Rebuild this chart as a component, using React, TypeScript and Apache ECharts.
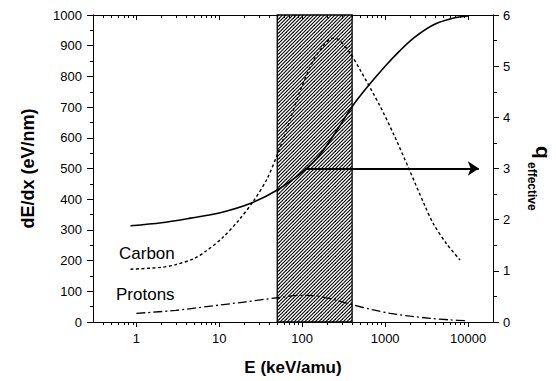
import React, { useEffect, useRef } from "react";
import * as echarts from "echarts";

// ---- data ----
const xMin = 0.3;
const xMax = 20000;
const majorTickValues = [1, 10, 100, 1000, 10000];
const minorTickValues = [
  0.4, 0.5, 0.6, 0.7, 0.8, 0.9,
  2, 3, 4, 5, 6, 7, 8, 9,
  20, 30, 40, 50, 60, 70, 80, 90,
  200, 300, 400, 500, 600, 700, 800, 900,
  2000, 3000, 4000, 5000, 6000, 7000, 8000, 9000,
];
const hatchRange = [50, 400];

// q_effective (right axis)
const qEnergy = [0.85, 2, 4.5, 10, 24, 50, 100, 160, 263, 400, 630, 1000, 1500, 2200, 3850, 6700, 10000];
const qValues = [1.88, 1.94, 2.03, 2.13, 2.32, 2.58, 2.93, 3.25, 3.75, 4.21, 4.62, 5.0, 5.3, 5.55, 5.81, 5.94, 5.98];

// Carbon dE/dx (left axis)
const carbonEnergy = [0.85, 2, 3, 5, 7, 11, 17, 26, 38, 50, 60, 72, 95, 137, 180, 210, 240, 280, 380, 500, 877, 1300, 1923, 3000, 3855, 5500, 8000];
const carbonValues = [172, 178, 187, 207, 232, 275, 330, 395, 468, 545, 600, 662, 755, 853, 900, 918, 925, 918, 875, 821, 701, 605, 501, 380, 318, 255, 202];

// Protons dE/dx (left axis)
const protonEnergy = [1, 3, 7, 20, 50, 100, 150, 250, 417, 700, 1160, 2000, 3500, 6000, 10000];
const protonValues = [28, 38, 50, 65, 79, 87, 85, 72, 55, 40, 28, 19, 12, 7, 4];

// arrow (q_effective = 3)
const arrowStart = [109, 3];
const arrowEnd = [13500, 3];

const leftTicks = { min: 0, max: 1000, interval: 100 };
const rightTicks = { min: 0, max: 6, interval: 1 };

const FONT = "'Liberation Sans', Arial, Helvetica, sans-serif";
const lg = (v: number) => Math.log10(v);

function makeHatch() {
  const size = 7;
  const c = document.createElement("canvas");
  c.width = size;
  c.height = size;
  const ctx = c.getContext("2d")!;
  ctx.fillStyle = "#fff";
  ctx.fillRect(0, 0, size, size);
  ctx.strokeStyle = "#000";
  ctx.lineWidth = 1.1;
  for (let k = -2; k <= 6; k++) {
    const cc = k * 3.5;
    ctx.beginPath();
    ctx.moveTo(cc - 10, size + 10);
    ctx.lineTo(cc + size + 10, -10);
    ctx.stroke();
  }
  return c;
}

export default function App() {
  const ref = useRef<HTMLDivElement>(null);
  useEffect(() => {
    if (!ref.current) return;
    const chart = echarts.init(ref.current, null, { renderer: "svg" });
    const hatch = makeHatch();
    const xBase = {
      type: "value" as const,
      min: lg(xMin),
      max: lg(xMax),
      splitLine: { show: false },
    };
    const tickLbl = { fontSize: 13, color: "#000", fontFamily: FONT };
    const tickData = [
      ...majorTickValues.map((v) => [lg(v), 1]),
      ...minorTickValues.map((v) => [lg(v), 0]),
    ];
    const option: any = {
      animation: false,
      backgroundColor: "#fff",
      grid: { left: 93, top: 15, width: 400, height: 307, containLabel: false },
      xAxis: [
        {
          ...xBase,
          position: "bottom",
          axisLine: { show: true, onZero: false, lineStyle: { color: "#000", width: 1 } },
          axisTick: { show: false },
          axisLabel: {
            ...tickLbl,
            margin: 10,
            customValues: majorTickValues.map(lg),
            formatter: (v: number) => String(Math.round(Math.pow(10, v))),
          },
          name: "E (keV/amu)",
          nameLocation: "middle",
          nameGap: 37,
          nameTextStyle: { fontSize: 17, fontWeight: "bold", color: "#000", fontFamily: FONT },
        },
        {
          ...xBase,
          position: "top",
          axisLine: { show: true, onZero: false, lineStyle: { color: "#000", width: 1 } },
          axisTick: { show: false },
          axisLabel: { show: false },
        },
      ],
      yAxis: [
        {
          type: "value",
          position: "left",
          ...leftTicks,
          splitLine: { show: false },
          axisLine: { show: true, onZero: false, lineStyle: { color: "#000", width: 1 } },
          axisTick: { show: true, inside: false, length: 6, lineStyle: { color: "#000" } },
          minorTick: { show: true, splitNumber: 2, length: 3, lineStyle: { color: "#000" } },
          axisLabel: { ...tickLbl, margin: 11, formatter: (v: number) => String(v) },
          name: "dE/dx (eV/nm)",
          nameLocation: "middle",
          nameRotate: 90,
          nameGap: 56,
          nameTextStyle: { fontSize: 18, fontWeight: "bold", color: "#000", fontFamily: FONT },
        },
        {
          type: "value",
          position: "right",
          ...rightTicks,
          splitLine: { show: false },
          axisLine: { show: true, onZero: false, lineStyle: { color: "#000", width: 1 } },
          axisTick: { show: true, inside: false, length: 6, lineStyle: { color: "#000" } },
          minorTick: { show: true, splitNumber: 2, length: 4, lineStyle: { color: "#000" } },
          axisLabel: { ...tickLbl, margin: 10, formatter: (v: number) => String(v) },
        },
      ],
      series: [
        {
          type: "line",
          xAxisIndex: 0,
          yAxisIndex: 0,
          z: 1,
          data: [[lg(hatchRange[0]), 0]],
          symbol: "none",
          lineStyle: { opacity: 0 },
          silent: true,
          markArea: {
            silent: true,
            itemStyle: {
              color: { image: hatch, repeat: "repeat", imageWidth: 7, imageHeight: 7 },
              borderColor: "#000",
              borderWidth: 1.3,
            },
            label: { show: false },
            data: [[{ xAxis: lg(hatchRange[0]) }, { xAxis: lg(hatchRange[1]) }]],
          },
        },
        {
          type: "custom",
          name: "xticks",
          xAxisIndex: 0,
          yAxisIndex: 0,
          z: 5,
          silent: true,
          clip: false,
          data: tickData,
          renderItem: (_params: any, api: any) => {
            const x = api.value(0);
            const major = api.value(1) === 1;
            const pb = api.coord([x, leftTicks.min]);
            const pt = api.coord([x, leftTicks.max]);
            const len = major ? 5 : 3;
            const px = Math.round(pb[0]) + 0.5;
            return {
              type: "group",
              children: [
                { type: "line", shape: { x1: px, y1: pb[1], x2: px, y2: pb[1] + len }, style: { stroke: "#000", lineWidth: 1 } },
                { type: "line", shape: { x1: px, y1: pt[1], x2: px, y2: pt[1] + len }, style: { stroke: "#000", lineWidth: 1 } },
              ],
            };
          },
        },
        {
          type: "line",
          name: "q",
          xAxisIndex: 0,
          yAxisIndex: 1,
          z: 3,
          smooth: 0.3,
          symbol: "none",
          data: qEnergy.map((e, i) => [lg(e), qValues[i]]),
          lineStyle: { color: "#000", width: 1.6, type: "solid" },
          markLine: {
            silent: true,
            symbol: ["none", "arrow"],
            symbolSize: [11, 11],
            label: { show: false },
            lineStyle: { color: "#000", width: 2.2, type: "solid" },
            data: [[{ coord: [lg(arrowStart[0]), arrowStart[1]] }, { coord: [lg(arrowEnd[0]), arrowEnd[1]] }]],
          },
        },
        {
          type: "line",
          name: "Carbon",
          xAxisIndex: 0,
          yAxisIndex: 0,
          z: 3,
          smooth: 0.3,
          symbol: "none",
          data: carbonEnergy.map((e, i) => [lg(e), carbonValues[i]]),
          lineStyle: { color: "#000", width: 1.4, type: [3, 2.5] },
        },
        {
          type: "line",
          name: "Protons",
          xAxisIndex: 0,
          yAxisIndex: 0,
          z: 3,
          smooth: 0.3,
          symbol: "none",
          data: protonEnergy.map((e, i) => [lg(e), protonValues[i]]),
          lineStyle: { color: "#000", width: 1.3, type: [9, 3, 2, 3] },
        },
      ],
      graphic: [
        { type: "text", left: 119, top: 245, style: { text: "Carbon", fontSize: 17, fill: "#000", fontFamily: FONT } },
        { type: "text", left: 116, top: 286, style: { text: "Protons", fontSize: 17, fill: "#000", fontFamily: FONT } },
        {
          type: "text",
          x: 543,
          y: 146,
          rotation: -Math.PI / 2,
          style: { text: "q", fontSize: 21, fontWeight: "bold", fill: "#000", fontFamily: FONT, align: "left", verticalAlign: "middle" },
        },
        {
          type: "text",
          x: 532,
          y: 162,
          rotation: -Math.PI / 2,
          style: { text: "effective", fontSize: 12, fontWeight: "bold", fill: "#000", fontFamily: FONT, align: "left", verticalAlign: "middle" },
        },
      ],
    };
    chart.setOption(option);
    return () => chart.dispose();
  }, []);
  return (
    <div
      ref={ref}
      style={{ position: "absolute", left: 0, top: 0, width: 556, height: 381, background: "#fff" }}
    />
  );
}
